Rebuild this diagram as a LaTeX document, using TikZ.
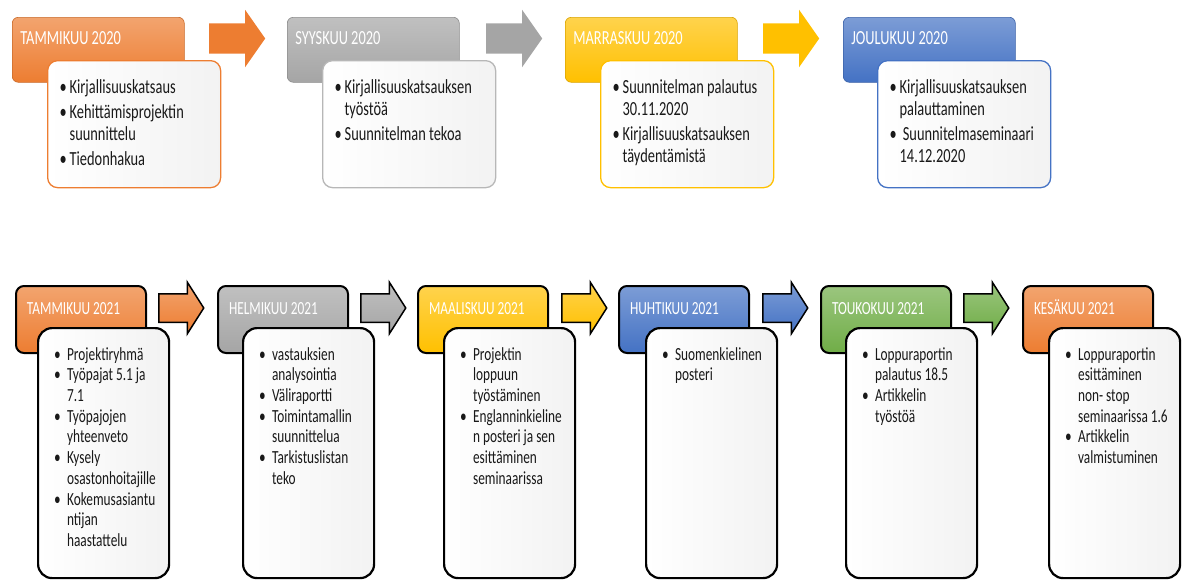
\documentclass[tikz,border=0pt]{standalone}
\usepackage{fontspec}
\setmainfont{Carlito}[FakeStretch=0.72]
\usetikzlibrary{shapes.arrows}
\definecolor{accorange}{HTML}{ED7D31}
\definecolor{accgray}{HTML}{A5A5A5}
\definecolor{accyellow}{HTML}{FFC000}
\definecolor{accblue}{HTML}{4472C4}
\definecolor{accgreen}{HTML}{70AD47}
\newlength\bulw
\newcommand{\fbul}{\noindent\llap{\makebox[\bulw][l]{\textbullet}}}
\newcommand{\bul}{\par\fbul}

\begin{document}
\begin{tikzpicture}[x=1pt,y=-1pt,
  head/.style={anchor=north west,rounded corners=6pt,top color=#1!70!white,
    bottom color=#1,draw=#1!85!black,line width=0.6pt,text=white,align=left,
    inner xsep=8pt,inner ysep=0pt,text width=156pt,text height=27.5pt,
    text depth=37.5pt,font=\fontsize{20}{22}\selectfont,
    execute at begin node={\spaceskip=0.16em\relax}},
  card/.style={anchor=north west,rounded corners=10pt,draw=#1,line width=1.3pt,
    left color=white,right color=black!5,text=black!90,align=left,
    inner sep=0pt,text width=173pt,text height=32.5pt,text depth=94.5pt,
    font=\fontsize{20}{22}\selectfont,
    execute at begin node={\setlength\bulw{10pt}\leftskip=22pt\parskip=3pt
      \spaceskip=0.16em\relax}},
  arr/.style={single arrow,anchor=tail,fill=#1,draw=none,minimum height=56pt,
    minimum width=57pt,inner xsep=0pt,inner ysep=15pt,
    single arrow head extend=13.5pt,single arrow tip angle=110},
  headb/.style={anchor=north west,rounded corners=8pt,top color=#1!70!white,
    bottom color=#1,draw=black,line width=2pt,text=white,align=left,
    inner xsep=11pt,inner ysep=0pt,text width=108pt,text height=28pt,
    text depth=39pt,font=\fontsize{18.5}{20.7}\selectfont,
    execute at begin node={\spaceskip=0.16em\relax}},
  cardb/.style={anchor=north west,rounded corners=14pt,draw=black,line width=2.2pt,
    left color=white,right color=black!5,text=black!90,align=left,
    inner sep=0pt,text width=131pt,text height=32pt,text depth=218pt,
    font=\fontsize{18.5}{20.7}\selectfont,
    execute at begin node={\setlength\bulw{13pt}\leftskip=29pt\parskip=0pt
      \spaceskip=0.16em\relax}},
  arrb/.style={single arrow,anchor=tail,top color=#1!70!white,bottom color=#1,
    draw=black,line width=1.5pt,minimum height=45pt,minimum width=50pt,
    inner xsep=0pt,inner ysep=13.5pt,single arrow head extend=11.5pt,
    single arrow tip angle=115}]
  \useasboundingbox (0,0) rectangle (1182,579);

  % 2020
  \node[head=accorange] (h1) at (12,17) {TAMMIKUU 2020};
  \node[head=accgray] (h2) at (287,17) {SYYSKUU 2020};
  \node[head=accyellow] (h3) at (565,17) {MARRASKUU 2020};
  \node[head=accblue] (h4) at (843,17) {JOULUKUU 2020};
  \node[arr=accorange] (a1) at (209,38.5) {};
  \node[arr=accgray] (a2) at (486,38.5) {};
  \node[arr=accyellow] (a3) at (763,38.5) {};
  \node[card=accorange] (c1) at (47,60)
       {\fbul Kirjallisuuskatsaus \bul Kehittämisprojektin\\suunnittelu
        \bul Tiedonhakua};
  \node[card=accgray!80] (c2) at (322,60)
       {\fbul Kirjallisuuskatsauksen\\työstöä \bul Suunnitelman tekoa};
  \node[card=accyellow] (c3) at (600,60)
       {\fbul Suunnitelman palautus\\30.11.2020
        \bul Kirjallisuuskatsauksen\\täydentämistä};
  \node[card=accblue] (c4) at (877,60)
       {\fbul Kirjallisuuskatsauksen\\palauttaminen
        \bul\ Suunnitelmaseminaari\\14.12.2020};

  % 2021
  \node[headb=accorange] (k1) at (15,285) {TAMMIKUU 2021};
  \node[headb=accgray] (k2) at (217,285) {HELMIKUU 2021};
  \node[headb=accyellow] (k3) at (417,285) {MAALISKUU 2021};
  \node[headb=accblue] (k4) at (618,285) {HUHTIKUU 2021};
  \node[headb=accgreen] (k5) at (820,285) {TOUKOKUU 2021};
  \node[headb=accorange] (k6) at (1022,285) {KESÄKUU 2021};
  \node[arrb=accorange] (b1) at (158,308) {};
  \node[arrb=accgray] (b2) at (360,308) {};
  \node[arrb=accyellow] (b3) at (561,308) {};
  \node[arrb=accblue] (b4) at (762,308) {};
  \node[arrb=accgreen] (b5) at (963,308) {};
  \node[cardb] (d1) at (37,327)
       {\fbul Projektiryhmä \bul Työpajat 5.1 ja\\7.1
        \bul Työpajojen\\yhteenveto \bul Kysely\\osastonhoitajille
        \bul Kokemusasiantu\\ntijan\\haastattelu};
  \node[cardb] (d2) at (242,327)
       {\fbul vastauksien\\analysointia \bul Väliraportti
        \bul Toimintamallin\\suunnittelua \bul Tarkistuslistan\\teko};
  \node[cardb] (d3) at (443,327)
       {\fbul Projektin\\loppuun\\työstäminen
        \bul Englanninkieline\\n posteri ja sen\\esittäminen\\seminaarissa};
  \node[cardb] (d4) at (645,327)
       {\fbul Suomenkielinen\\posteri};
  \node[cardb] (d5) at (845,327)
       {\fbul Loppuraportin\\palautus 18.5 \bul Artikkelin\\työstöä};
  \node[cardb] (d6) at (1048,327)
       {\fbul Loppuraportin\\esittäminen\\non- stop\\seminaarissa 1.6
        \bul Artikkelin\\valmistuminen};
\end{tikzpicture}
\end{document}
